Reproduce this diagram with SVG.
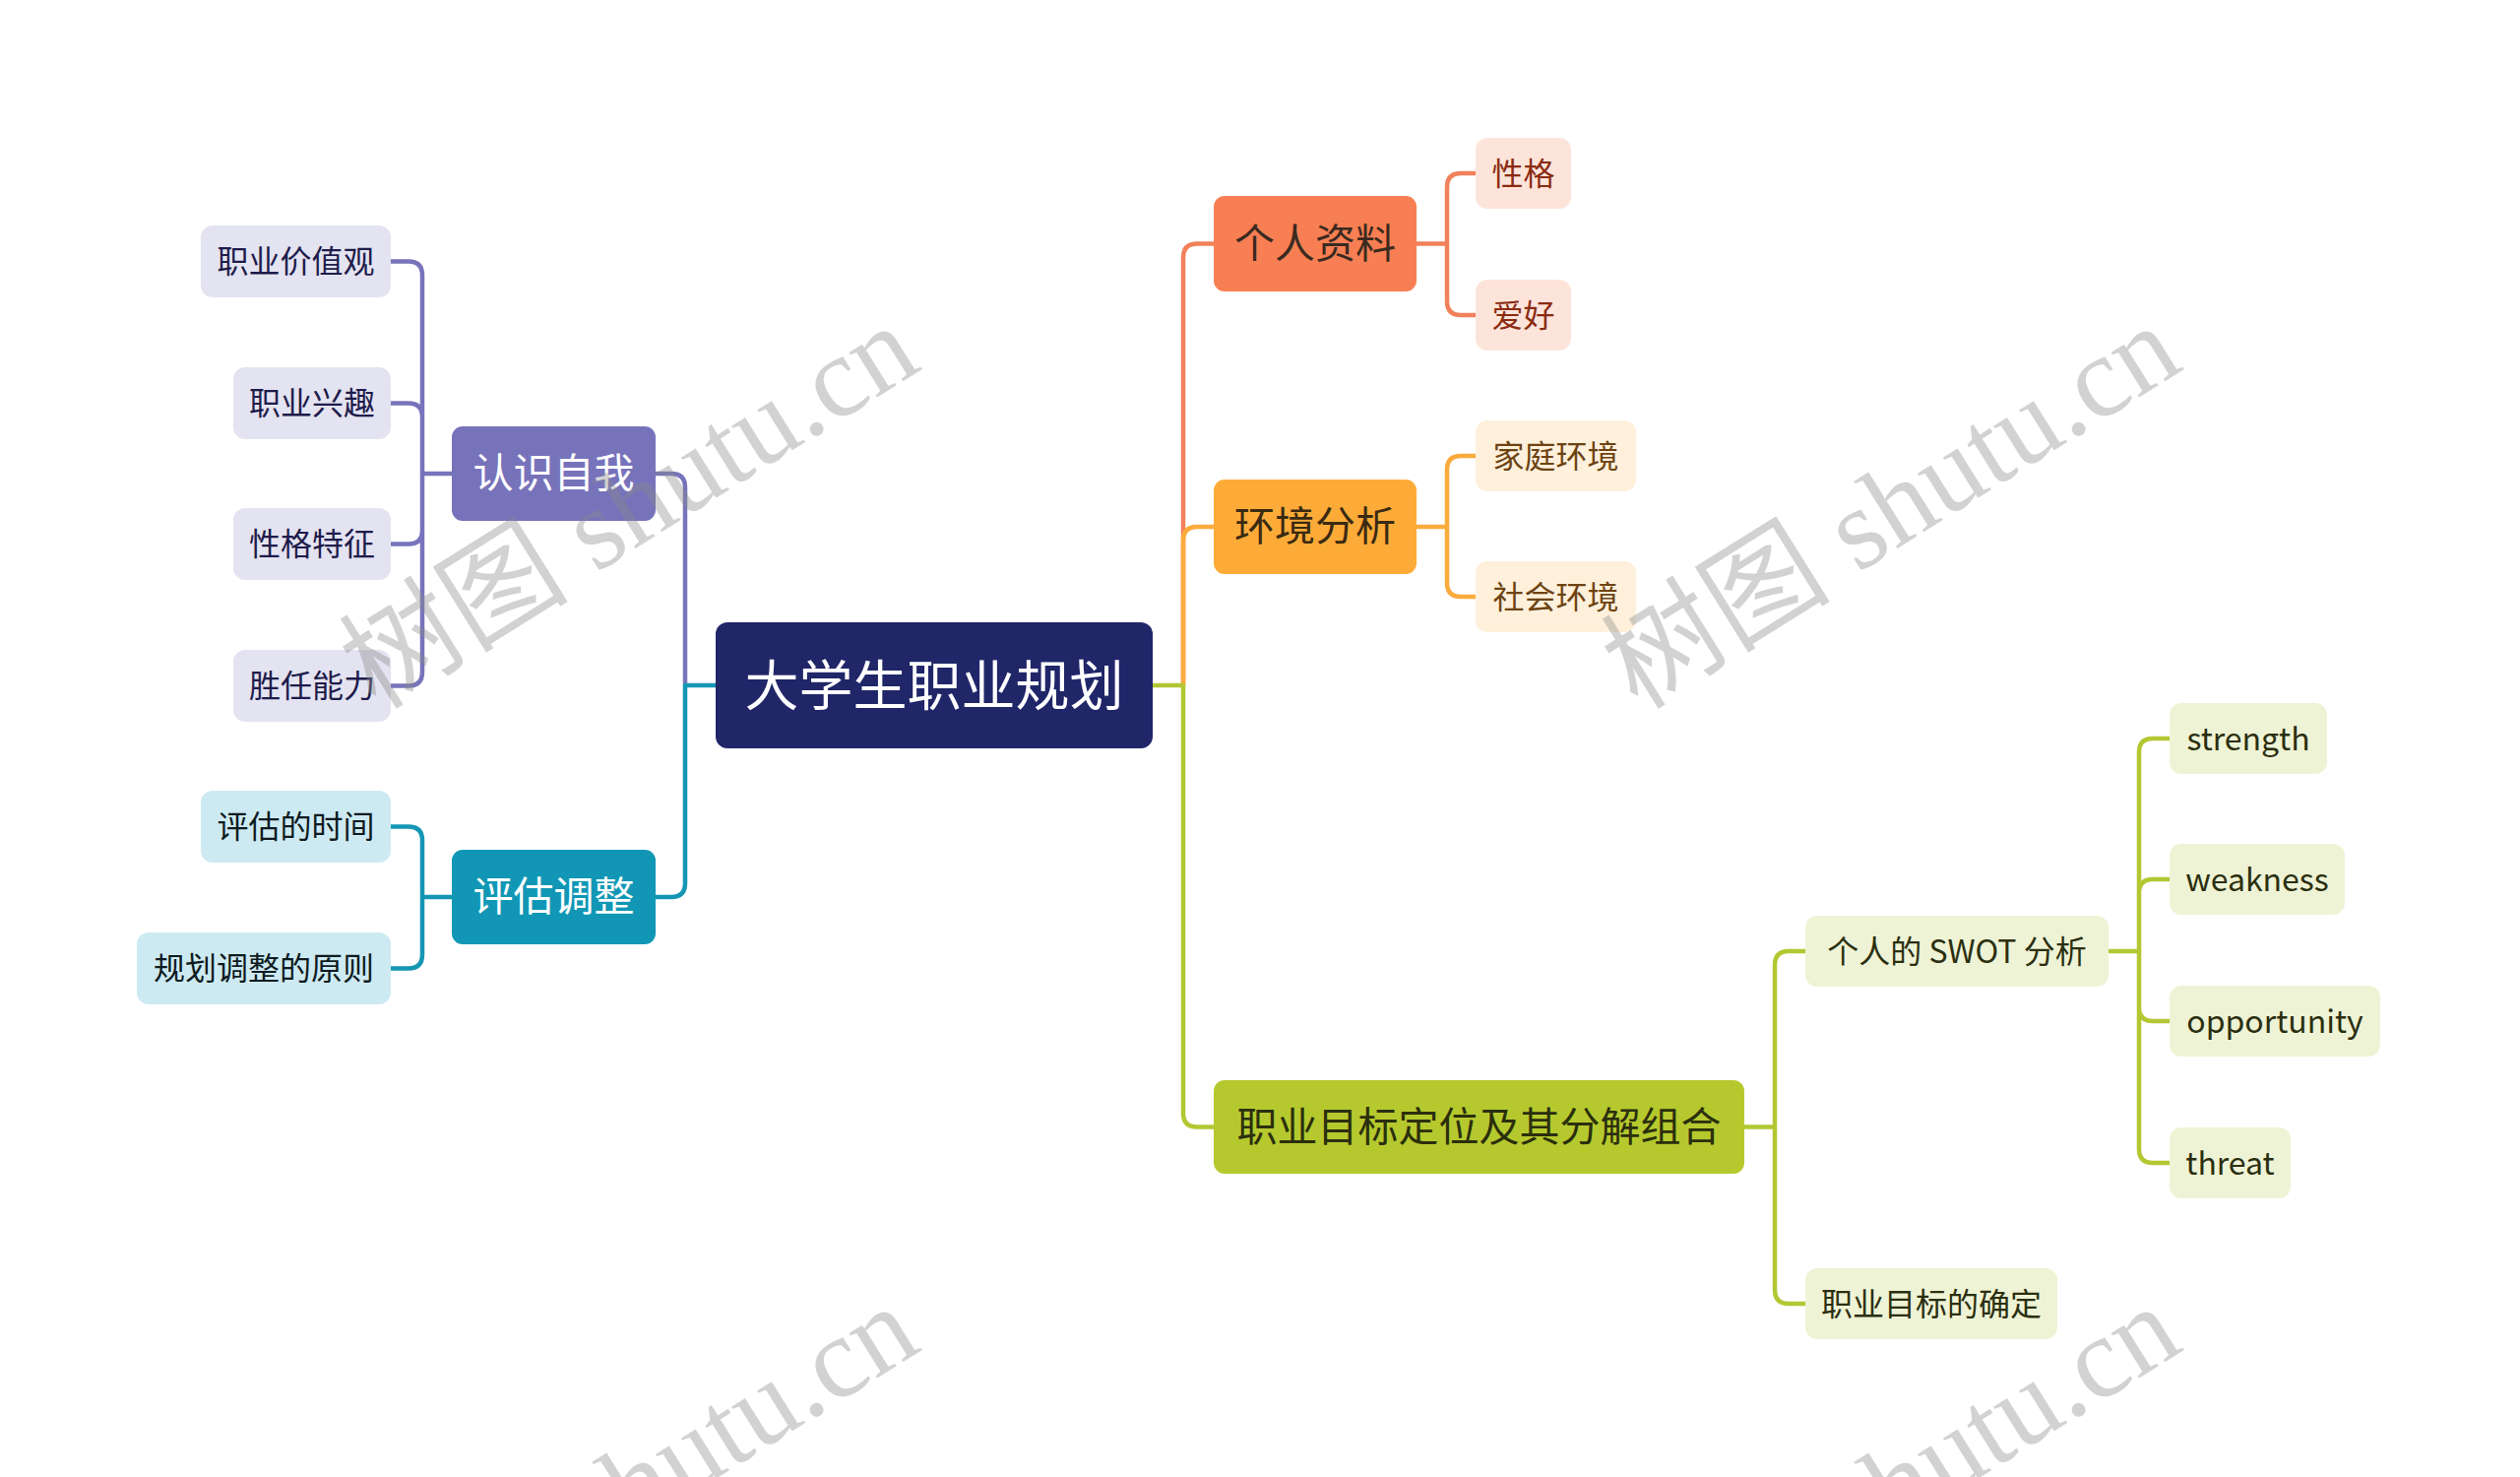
<svg xmlns="http://www.w3.org/2000/svg" width="2560" height="1500" viewBox="0 0 2560 1500">
<style>
text{font-family:"Noto Sans CJK SC","Noto Sans",sans-serif;text-anchor:middle;dominant-baseline:central}
.ln{fill:none;stroke-width:4.5;stroke-linecap:round;stroke-linejoin:round}
.c0{font-size:55px;fill:#ffffff}
.c1{font-size:41px}
.c2{font-size:32px}
.wm{font-family:"Liberation Serif","Noto Sans CJK SC",serif;font-size:117px;fill:#8a8a8a;fill-opacity:0.38;text-anchor:middle;dominant-baseline:auto}
</style>
<rect width="2560" height="1500" fill="#ffffff"/>
<g id="connectors">
<path class="ln" stroke="#f1815a" d="M1233 247.5 H1216 Q1202 247.5 1202 261.5 V696"/>
<path class="ln" stroke="#fbab3c" d="M1233 535 H1216 Q1202 535 1202 549 V696"/>
<path class="ln" stroke="#b3c733" d="M1171 696 H1202 V1130.5 Q1202 1144.5 1216 1144.5 H1233"/>
<path class="ln" stroke="#f1815a" d="M1439 247.5 H1470 M1499 176 H1484 Q1470 176 1470 190 V306 Q1470 320 1484 320 H1499"/>
<path class="ln" stroke="#fbab3c" d="M1439 535 H1470 M1499 463 H1484 Q1470 463 1470 477 V592 Q1470 606 1484 606 H1499"/>
<path class="ln" stroke="#b3c733" d="M1772 1144.5 H1803 M1834 966 H1817 Q1803 966 1803 980 V1310 Q1803 1324 1817 1324 H1834"/>
<path class="ln" stroke="#b3c733" d="M2142 966 H2173 M2204 750 H2187 Q2173 750 2173 764 V1167 Q2173 1181 2187 1181 H2204 M2204 893 H2187 Q2173 893 2173 907 M2204 1037 H2187 Q2173 1037 2173 1023"/>
<path class="ln" stroke="#7874bb" d="M666 481 H682 Q696 481 696 495 V696"/>
<path class="ln" stroke="#1596b4" d="M666 911 H682 Q696 911 696 897 V696 H727"/>
<path class="ln" stroke="#7874bb" d="M459 481 H429 M397 265.5 H415 Q429 265.5 429 279.5 V682.5 Q429 696.5 415 696.5 H397 M397 409.5 H415 Q429 409.5 429 423.5 M397 552.5 H415 Q429 552.5 429 538.5"/>
<path class="ln" stroke="#1596b4" d="M459 911 H429 M397 839.5 H415 Q429 839.5 429 853.5 V969.5 Q429 983.5 415 983.5 H397"/>
</g>
<g id="root"><rect x="727" y="632" width="444" height="128" rx="12" fill="#202668"/><text class="c0" x="949" y="692">大学生职业规划</text></g>
<g id="n-rszw"><rect x="459" y="433" width="207" height="96" rx="11" fill="#7773bb"/><text class="c1" x="562.5" y="477" fill="#ffffff">认识自我</text></g>
<g id="n-pgtz"><rect x="459" y="863" width="207" height="96" rx="11" fill="#1197b5"/><text class="c1" x="562.5" y="907" fill="#ffffff">评估调整</text></g>
<g id="n-zyjzg"><rect x="204" y="229" width="193" height="73" rx="12" fill="#e4e3f1"/><text class="c2" x="300.5" y="263" fill="#1e1c4b">职业价值观</text></g>
<g id="n-zyxq"><rect x="237" y="373" width="160" height="73" rx="12" fill="#e4e3f1"/><text class="c2" x="317" y="407" fill="#1e1c4b">职业兴趣</text></g>
<g id="n-xgtz"><rect x="237" y="516" width="160" height="73" rx="12" fill="#e4e3f1"/><text class="c2" x="317" y="550" fill="#1e1c4b">性格特征</text></g>
<g id="n-srnl"><rect x="237" y="660" width="160" height="73" rx="12" fill="#e4e3f1"/><text class="c2" x="317" y="694" fill="#1e1c4b">胜任能力</text></g>
<g id="n-pgdsj"><rect x="204" y="803" width="193" height="73" rx="12" fill="#cdeaf2"/><text class="c2" x="300.5" y="837" fill="#0e1b21">评估的时间</text></g>
<g id="n-ghtz"><rect x="139" y="947" width="258" height="73" rx="12" fill="#cdeaf2"/><text class="c2" x="268" y="981" fill="#0e1b21">规划调整的原则</text></g>
<g id="n-grzl"><rect x="1233" y="199" width="206" height="97" rx="11" fill="#f77f53"/><text class="c1" x="1336" y="244" fill="#3a2a20">个人资料</text></g>
<g id="n-hjfx"><rect x="1233" y="487" width="206" height="96" rx="11" fill="#fdab38"/><text class="c1" x="1336" y="531" fill="#3a2a12">环境分析</text></g>
<g id="n-zymb"><rect x="1233" y="1097" width="539" height="95" rx="11" fill="#b5c92e"/><text class="c1" x="1502.5" y="1141" fill="#2b2f0d">职业目标定位及其分解组合</text></g>
<g id="n-xg"><rect x="1499" y="140" width="97" height="72" rx="12" fill="#fde4da"/><text class="c2" x="1547.5" y="174" fill="#8a2b12">性格</text></g>
<g id="n-ah"><rect x="1499" y="284" width="97" height="72" rx="12" fill="#fde4da"/><text class="c2" x="1547.5" y="318" fill="#8a2b12">爱好</text></g>
<g id="n-jthj"><rect x="1499" y="427" width="163" height="72" rx="12" fill="#fef0db"/><text class="c2" x="1580.5" y="461" fill="#6d4312">家庭环境</text></g>
<g id="n-shhj"><rect x="1499" y="570" width="163" height="72" rx="12" fill="#fef0db"/><text class="c2" x="1580.5" y="604" fill="#6d4312">社会环境</text></g>
<g id="n-swot"><rect x="1834" y="930" width="308" height="72" rx="12" fill="#eff3d5"/><text class="c2" x="1988" y="964" fill="#2b2f10">个人的 SWOT 分析</text></g>
<g id="n-zymbqd"><rect x="1834" y="1288" width="256" height="72" rx="12" fill="#eff3d5"/><text class="c2" x="1962" y="1322" fill="#2b2f10">职业目标的确定</text></g>
<g id="n-s"><rect x="2204" y="714" width="160" height="72" rx="12" fill="#eff3d5"/><text class="c2" x="2284" y="748" fill="#2b2f10">strength</text></g>
<g id="n-w"><rect x="2204" y="857" width="178" height="72" rx="12" fill="#eff3d5"/><text class="c2" x="2293" y="891" fill="#2b2f10">weakness</text></g>
<g id="n-o"><rect x="2204" y="1001" width="214" height="72" rx="12" fill="#eff3d5"/><text class="c2" x="2311" y="1035" fill="#2b2f10">opportunity</text></g>
<g id="n-t"><rect x="2204" y="1145" width="123" height="72" rx="12" fill="#eff3d5"/><text class="c2" x="2265.5" y="1179" fill="#2b2f10">threat</text></g>
<g id="watermarks">
<text class="wm" transform="translate(660 548) rotate(-32)">树图 shutu.cn</text>
<text class="wm" transform="translate(1942 548) rotate(-32)">树图 shutu.cn</text>
<text class="wm" transform="translate(660 1544) rotate(-32)">树图 shutu.cn</text>
<text class="wm" transform="translate(1942 1544) rotate(-32)">树图 shutu.cn</text>
</g>
</svg>
